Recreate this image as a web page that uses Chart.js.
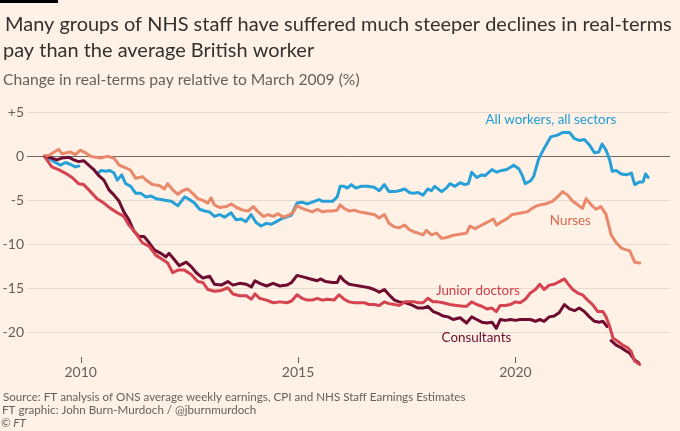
<!DOCTYPE html>
<html>
<head>
<meta charset="utf-8">
<script src="https://cdn.jsdelivr.net/npm/chart.js@4.4.1/dist/chart.umd.min.js"></script>
<style>
  html, body { margin: 0; padding: 0; background: #fff1e5; }
  #wrap { position: relative; width: 680px; height: 431px; }
</style>
</head>
<body>
<div id="wrap"><canvas id="payChart" width="680" height="431"></canvas></div>
<script>
// months counted from March 2009 (0 = Mar 2009), values = % change in real-terms pay
var allWorkersMonths = [0, 1.5, 3.0, 4.4, 5.8, 7.1, 8.5, 9.5, 12, 14.7, 15.7, 16.9, 18, 19.2, 20.1, 21.3, 22.4, 23.8, 25.2, 26.6, 28, 29.4, 30.8, 32.2, 33.6, 35, 36.8, 38.7, 40, 41.4, 42.8, 44.2, 45.5, 46.9, 48.3, 49.7, 51.5, 52.9, 54.3, 55.6, 57, 58.4, 59.8, 61.2, 62.6, 64, 65.3, 66.7, 68.1, 69.7, 71.1, 72.5, 73.9, 75.8, 76.7, 78.1, 79.5, 80.8, 81.6, 82.7, 83.6, 84.7, 85.9, 87.3, 89.1, 91, 92.4, 93.8, 95.1, 96.6, 97.9, 99.4, 100.7, 101.7, 103.1, 104.5, 105.8, 106.8, 107.7, 109.6, 110.9, 111.9, 113.3, 114.7, 116.1, 117, 117.9, 119.3, 120.7, 121.6, 123.5, 124.8, 126.2, 127.6, 129.5, 130.9, 131.8, 132.7, 134.1, 135, 136.4, 137.9, 139.7, 141.6, 143, 144.9, 146.3, 147.6, 149, 150.4, 151.8, 153, 153.9, 155, 156, 156.7, 157.8, 159.2, 160.6, 162, 162.9, 164.3, 165.2, 165.9, 166.6];
var allWorkersPay = [0, -0.3, -0.7, -1.0, -0.7, -0.9, -1.2, -1.1, null, -1.9, -1.6, -1.7, -1.6, -1.9, -2.7, -2.1, -3.1, -3.4, -4.2, -4.2, -4.6, -4.5, -4.8, -4.9, -5.0, -5.1, -5.6, -4.6, -4.9, -5.3, -6.0, -6.2, -6.3, -6.8, -6.6, -6.9, -6.4, -7.2, -7.1, -7.4, -6.6, -7.5, -7.9, -7.6, -7.7, -7.4, -7.1, -6.9, -6.7, -5.3, -5.2, -5.4, -5.2, -4.9, -5.1, -5.1, -5.1, -4.6, -3.4, -3.4, -3.6, -3.2, -3.6, -3.4, -3.4, -3.5, -3.9, -3.2, -4.0, -4.0, -3.9, -3.7, -4.1, -4.2, -4.1, -4.4, -3.7, -3.9, -3.4, -4.0, -3.6, -3.1, -3.4, -3.0, -3.2, -3.1, -1.8, -2.4, -2.1, -2.2, -1.5, -1.8, -1.6, -1.5, -1.0, -1.4, -2.1, -3.1, -2.8, -2.3, -0.3, 0.9, 2.2, 2.4, 2.7, 2.7, 2.0, 1.8, 1.9, 1.3, 0.4, 0.5, 1.4, 0.7, -0.4, -1.7, -1.6, -2.0, -2.1, -1.9, -3.2, -2.9, -2.9, -2.0, -2.4];

var nursesMonths = [0, 1.6, 3.9, 4.8, 7.1, 8.5, 9.9, 11.3, 12.7, 14.1, 15.5, 17.3, 19.2, 20.6, 22.4, 23.8, 25.2, 27, 28.4, 29.8, 31.7, 33.1, 34, 35.4, 36.8, 38.1, 39.5, 40.9, 42.3, 43.7, 45.1, 46, 46.9, 48.3, 50.2, 51.6, 53, 54.8, 56.2, 57.6, 59, 60.4, 61.8, 63.1, 64.5, 65.9, 67.3, 68.7, 69.7, 71.1, 72.5, 73.9, 75.3, 76.7, 78.1, 79.5, 80.8, 81.6, 82.7, 84.1, 85.5, 86.9, 88.3, 89.6, 91, 92.4, 93.8, 95.1, 96.6, 97.9, 99.4, 100.7, 102.2, 103.1, 104.5, 105.4, 106.8, 108.2, 109.6, 111, 112.4, 113.7, 115.1, 116.5, 117.4, 118.8, 120.2, 121.6, 123, 123.9, 124.8, 126.2, 127.6, 129, 130.4, 131.8, 133.2, 134.6, 135.9, 136.9, 138.3, 140.2, 141.6, 143, 144.4, 145.8, 147.2, 148.5, 149.5, 150.9, 152.2, 153.6, 155, 156.4, 157.8, 159.2, 160.6, 161.5, 162.9, 164.3];
var nursesPay = [0, 0.2, 0.8, 0.3, 0.5, 0.2, 0.7, 0.4, 0, -0.1, -0.2, 0, -0.2, -1.0, -1.3, -1.6, -2.5, -2.3, -2.8, -3.2, -3.3, -3.7, -3.1, -3.8, -4.3, -3.9, -3.7, -4.2, -4.8, -5.0, -5.3, -4.7, -5.5, -5.8, -5.7, -5.4, -5.8, -6.1, -6.2, -5.7, -6.3, -6.8, -6.6, -6.8, -6.5, -6.9, -6.7, -6.3, -5.6, -5.9, -6.1, -6.3, -6.0, -6.3, -6.2, -6.2, -6.1, -5.5, -5.9, -6.2, -6.1, -6.3, -6.4, -6.5, -6.6, -7.0, -6.6, -7.6, -8.0, -8.1, -7.8, -8.3, -8.6, -8.7, -8.9, -8.4, -8.9, -8.7, -9.3, -9.2, -9.0, -8.9, -8.8, -8.7, -7.9, -8.2, -7.9, -7.6, -7.3, -7.1, -7.8, -7.4, -7.1, -6.6, -6.5, -6.4, -6.3, -5.9, -5.6, -5.5, -5.4, -5.1, -4.6, -4.0, -4.4, -5.1, -5.5, -5.9, -4.8, -5.5, -6.0, -5.7, -6.6, -8.9, -9.8, -10.4, -10.6, -10.7, -12.0, -12.1];

var juniorMonths = [0, 2, 3.9, 5.7, 7.6, 9.4, 10.8, 12.7, 14.5, 16.4, 18.2, 20.1, 21.9, 23.3, 25.2, 27, 28.9, 30.7, 32.6, 34, 35.4, 36.8, 38.6, 40.5, 42.3, 43.7, 45.1, 46.9, 48.8, 50.6, 52, 53.9, 55.7, 57.1, 58.1, 59.4, 61.3, 63.1, 65, 66.9, 68.2, 69.7, 71.1, 72.5, 73.9, 75.3, 76.7, 78.1, 79.9, 81.3, 82.7, 84.1, 85.5, 86.9, 88.3, 89.6, 91, 92.4, 93.8, 95.1, 96.6, 97.9, 99.4, 100.7, 102.2, 103.1, 104.5, 105.8, 107.3, 108.6, 110, 111.9, 113.7, 115.6, 116.5, 117.9, 119.3, 120.7, 122.1, 123.5, 124.7, 125.8, 127.2, 128.6, 130, 131.3, 132.7, 134.1, 135.5, 136.7, 137.9, 139.3, 140.7, 142.1, 143.5, 144.4, 145.8, 147.2, 148.5, 149.9, 151.3, 152.7, 154.1, 155, 156, 156.9, 158.3, 159.6, 161, 161.9, 162.9, 164.3];
var juniorPay = [0, -1.2, -1.5, -1.9, -2.4, -3.1, -3.2, -4.0, -4.8, -5.3, -5.9, -6.4, -6.8, -7.8, -8.7, -9.8, -10.2, -11.2, -11.7, -12.1, -13.2, -12.9, -12.9, -13.4, -14.2, -14.3, -15.1, -15.3, -15.2, -14.9, -15.6, -15.8, -15.8, -16.2, -15.6, -16.1, -16.3, -16.6, -16.5, -16.6, -16.4, -15.7, -16.1, -16.3, -16.3, -16.1, -16.3, -16.2, -16.3, -15.7, -16.2, -16.5, -16.6, -16.6, -16.6, -16.8, -16.8, -16.9, -16.5, -16.7, -16.8, -16.9, -16.5, -16.5, -16.5, -16.6, -16.6, -16.1, -16.5, -16.5, -16.6, -16.8, -16.9, -17.0, -17.0, -16.5, -16.8, -17.0, -17.3, -17.2, -17.6, -16.9, -16.9, -16.8, -16.5, -16.6, -16.2, -15.5, -15.1, -14.5, -15.1, -14.6, -14.5, -14.2, -13.9, -14.4, -15.1, -15.5, -15.7, -16.3, -16.8, -17.6, -17.6, -18.2, -19.3, -20.6, -21.0, -21.4, -21.7, -22.1, -23.2, -23.6];

var consultantsMonths = [0, 2, 3.4, 4.8, 6.7, 8.1, 9.4, 10.8, 12.2, 13.6, 15, 16.4, 17.8, 19.2, 20.6, 21.9, 23.3, 24.7, 26.1, 27.5, 28.9, 30.3, 32.1, 33.5, 34.4, 35.8, 37.2, 39.1, 40.5, 41.9, 43.7, 45.6, 46.9, 48.8, 50.6, 52, 53.9, 55.7, 57.1, 58.1, 59.4, 61.3, 63.1, 65, 66.9, 68.2, 69.7, 71.6, 73.4, 75.3, 76.2, 77.6, 79.5, 80.8, 81.6, 82.7, 84.1, 85.5, 86.9, 88.3, 89.6, 91, 92.4, 93.8, 95.1, 96.6, 97.9, 99.7, 101.1, 103.1, 104.5, 105.8, 107.3, 108.6, 110, 111.4, 112.8, 114.7, 116.5, 117.9, 119.3, 120.7, 122.1, 123.5, 124.7, 125.8, 127.2, 128.6, 130, 131.3, 132.7, 134.1, 135.5, 136.7, 137.9, 139.3, 140.7, 142.1, 143.5, 144.9, 146.3, 147.6, 149, 150.4, 151.8, 153.2, 154.1, 155.3, 155.9, 156.4, 157.8, 159.2, 160.6, 161.5, 162.9, 164];
var consultantsPay = [0, -0.2, -0.4, -0.2, -0.1, -0.4, -0.6, -0.5, -1.0, -1.5, -2.2, -2.7, -3.8, -4.4, -5.1, -6.3, -7.2, -8.5, -9.1, -9.1, -9.8, -10.6, -11.0, -11.4, -11.0, -11.7, -12.4, -12.0, -12.5, -13.2, -13.8, -13.6, -14.5, -14.6, -14.2, -14.6, -14.4, -14.5, -14.8, -14.1, -14.4, -14.7, -14.4, -14.7, -14.6, -14.3, -13.5, -13.7, -13.9, -14.1, -13.9, -14.2, -14.3, -14.3, -13.6, -14.1, -14.5, -14.6, -14.7, -14.8, -14.9, -15.1, -15.4, -15.1, -15.7, -16.3, -16.5, -16.6, -16.8, -17.2, -17.2, -17.0, -17.6, -17.8, -18.1, -18.2, -18.5, -18.3, -18.9, -18.2, -18.5, -18.8, -18.9, -18.8, -19.5, -18.5, -18.6, -18.5, -18.6, -18.5, -18.5, -18.5, -18.7, -18.5, -18.7, -18.2, -18.1, -17.7, -16.8, -17.3, -17.5, -17.2, -17.6, -18.2, -18.7, -18.8, -18.7, -19.3, null, -20.9, -21.4, -21.7, -22.1, -22.3, -23.1, -23.4];

var xTicks = [2010, 2015, 2020];
var yTicks = [-20, -15, -10, -5, 0, 5];

var titleLines = ['Many groups of NHS staff have suffered much steeper declines in real-terms', 'pay than the average British worker'];
var subtitle = 'Change in real-terms pay relative to March 2009 (%)';
var footerLines = ['Source: FT analysis of ONS average weekly earnings, CPI and NHS Staff Earnings Estimates', 'FT graphic: John Burn-Murdoch / @jburnmurdoch', '\u00a9 FT'];

// label text, x in years, y in %
var labels = [
  { text: 'All workers, all sectors', x: 2019.31, y: 4.2, color: '#1f9bd3' },
  { text: 'Nurses', x: 2020.79, y: -7.3, color: '#d6694d' },
  { text: 'Junior doctors', x: 2018.17, y: -15.24, color: '#cf3d4a' },
  { text: 'Consultants', x: 2018.3, y: -20.6, color: '#6d0b30' }
];

var FONT = 'Lato, "Open Sans", sans-serif';
var GREY = '#66605c';

function toPoints(months, values) {
  return months.map(function (m, i) {
    return { x: 2009 + (2 + m) / 12, y: values[i] };
  });
}

function fitSize(ctx, text, width, extra) {
  ctx.font = (extra || '') + ' 20px ' + FONT;
  return 20 * width / ctx.measureText(text).width;
}

var framePlugin = {
  id: 'frame',
  beforeDraw: function (chart) {
    var ctx = chart.ctx;
    ctx.save();
    ctx.fillStyle = '#fff1e5';
    ctx.fillRect(0, 0, chart.width, chart.height);
    ctx.fillStyle = '#000';
    ctx.fillRect(0, 0, 58, 3);

    ctx.textBaseline = 'alphabetic';
    ctx.textAlign = 'left';
    var ts = fitSize(ctx, titleLines[0], 667);
    ctx.font = ts + 'px ' + FONT;
    ctx.fillStyle = '#33302e';
    ctx.fillText(titleLines[0], 5, 31);
    ctx.fillText(titleLines[1], 3, 57.3);

    var ss = fitSize(ctx, subtitle, 357);
    ctx.font = ss + 'px ' + FONT;
    ctx.fillStyle = GREY;
    ctx.fillText(subtitle, 3, 85.3);

    var fs = fitSize(ctx, footerLines[0], 463);
    ctx.font = fs + 'px ' + FONT;
    ctx.fillText(footerLines[0], 3, 400.7);
    ctx.fillText(footerLines[1], 2, 414);
    ctx.font = 'italic ' + fs + 'px ' + FONT;
    ctx.fillText(footerLines[2], 1, 427.3);
    ctx.restore();
  },
  afterDatasetsDraw: function (chart) {
    var ctx = chart.ctx;
    var sx = chart.scales.x, sy = chart.scales.y;
    ctx.save();
    var ls = fitSize(ctx, labels[0].text, 131);
    ctx.font = ls + 'px ' + FONT;
    ctx.textBaseline = 'middle';
    ctx.textAlign = 'left';
    labels.forEach(function (l) {
      ctx.fillStyle = l.color;
      ctx.fillText(l.text, sx.getPixelForValue(l.x), sy.getPixelForValue(l.y));
    });
    ctx.restore();
  },
  afterDraw: function (chart) {
    // small year tick marks under the plot
    var ctx = chart.ctx;
    var sx = chart.scales.x, bottom = chart.chartArea.bottom;
    ctx.save();
    ctx.fillStyle = '#66605c';
    xTicks.forEach(function (t) {
      var px = Math.round(sx.getPixelForValue(t));
      ctx.fillRect(px, bottom, 1, 6);
    });
    ctx.restore();
  }
};

function series(label, months, values, color, order) {
  return {
    label: label,
    data: toPoints(months, values),
    borderColor: color,
    borderWidth: 3,
    borderJoinStyle: 'round',
    borderCapStyle: 'round',
    pointRadius: 0,
    tension: 0,
    spanGaps: false,
    clip: false,
    order: order
  };
}

var ctx = document.getElementById('payChart').getContext('2d');
var payChart = new Chart(ctx, {
  type: 'line',
  data: {
    datasets: [
      series('All workers, all sectors', allWorkersMonths, allWorkersPay, '#26a0d6', 4),
      series('Consultants', consultantsMonths, consultantsPay, '#6d0b30', 3),
      series('Nurses', nursesMonths, nursesPay, '#e9886a', 2),
      series('Junior doctors', juniorMonths, juniorPay, '#d4434f', 1)
    ]
  },
  options: {
    responsive: false,
    animation: false,
    events: [],
    layout: { padding: { top: 103.4, right: 10, bottom: 44, left: 0 } },
    plugins: { legend: { display: false }, tooltip: { enabled: false } },
    scales: {
      x: {
        type: 'linear',
        min: 2008.764,
        max: 2023.554,
        afterBuildTicks: function (s) { s.ticks = xTicks.map(function (v) { return { value: v }; }); },
        afterFit: function (s) { s.height = 30; },
        border: { display: false },
        grid: { display: false, drawTicks: true, tickLength: 6 },
        ticks: { color: GREY, font: { family: FONT, size: 14 }, padding: 1, maxRotation: 0, callback: function (v) { return String(v); } }
      },
      y: {
        min: -22.75,
        max: 6,
        afterBuildTicks: function (s) { s.ticks = yTicks.map(function (v) { return { value: v }; }); },
        afterFit: function (s) { s.width = 27; },
        border: { display: false },
        grid: {
          drawTicks: false,
          lineWidth: 1,
          color: function (c) { return c.tick && c.tick.value === 0 ? '#6e6762' : '#e6d9cf'; }
        },
        ticks: {
          color: GREY,
          font: { family: FONT, size: 14 },
          padding: 3,
          callback: function (v) { return v > 0 ? '+' + v : String(v); }
        }
      }
    }
  },
  plugins: [framePlugin]
});
</script>
</body>
</html>
